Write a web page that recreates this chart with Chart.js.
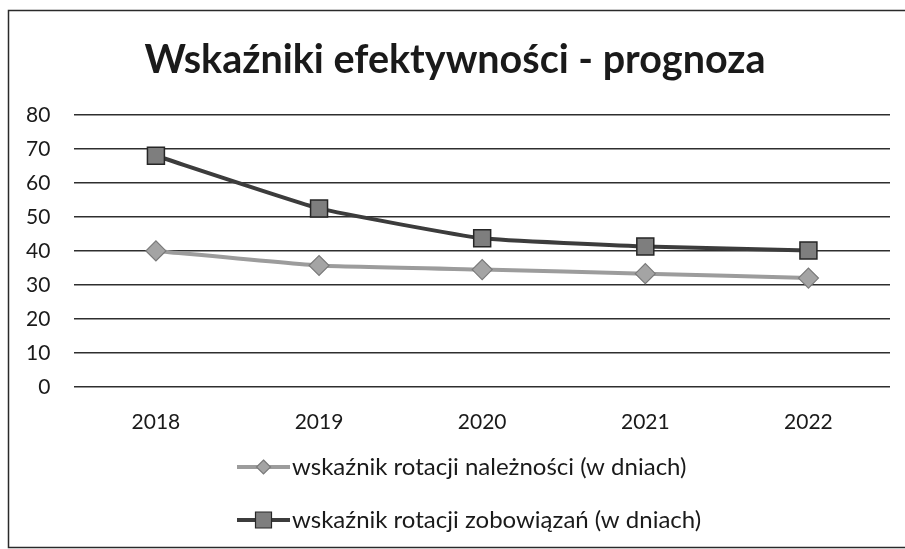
<!DOCTYPE html>
<html>
<head>
<meta charset="utf-8">
<script src="https://cdn.jsdelivr.net/npm/chart.js@4.4.0/dist/chart.umd.min.js"></script>
<style>
  html, body { margin: 0; padding: 0; background: #fff; }
  #wrap { width: 905px; height: 549px; position: relative; }
</style>
</head>
<body>
<div id="wrap"><canvas id="chart"></canvas></div>
<script>
// dane z wykresu
const years = ['2018', '2019', '2020', '2021', '2022'];
const naleznosci = [40, 35.7, 34.5, 33.3, 32];
const zobowiazania = [68, 52.5, 43.7, 41.3, 40.1];
const yTicks = [0, 10, 20, 30, 40, 50, 60, 70, 80];
const chartTitle = 'Wskaźniki efektywności - prognoza';

const FONT = "Lato, 'Open Sans', sans-serif";

// ramka, tytuł i legenda rysowane ręcznie (linia z markerem, jedna pod drugą)
const frameAndLegend = {
    id: 'frameAndLegend',
    afterDraw(chart) {
        const c = chart.ctx;
        c.save();
        c.strokeStyle = '#2a2a2a';
        c.lineWidth = 1.5;
        c.strokeRect(8.5, 10.5, 905, 537);

        c.fillStyle = '#1a1a1a';
        c.font = 'bold 39.5px ' + FONT;
        c.textAlign = 'center';
        c.textBaseline = 'middle';
        c.fillText(chartTitle, 455, 60);
        c.textAlign = 'left';

        const rows = [467, 520];
        chart.data.datasets.forEach((ds, i) => {
            const y = rows[i];
            const x0 = 237, x1 = 290;
            c.strokeStyle = ds.borderColor;
            c.lineWidth = ds.borderWidth;
            c.beginPath();
            c.moveTo(x0, y);
            c.lineTo(x1, y);
            c.stroke();
            const mx = (x0 + x1) / 2;
            c.fillStyle = ds.pointBackgroundColor;
            c.strokeStyle = ds.pointBorderColor;
            c.lineWidth = 1.2;
            c.beginPath();
            if (ds.pointStyle === 'rectRot') {
                const r = 7;
                c.moveTo(mx, y - r); c.lineTo(mx + r, y); c.lineTo(mx, y + r); c.lineTo(mx - r, y);
                c.closePath();
            } else {
                c.rect(mx - 8, y - 8, 16, 16);
            }
            c.fill();
            c.stroke();
            c.fillStyle = '#1a1a1a';
            c.font = '24px ' + FONT;
            c.textBaseline = 'middle';
            c.fillText(ds.label, x1 + 2, y);
        });
        c.restore();
    }
};

const ctx = document.getElementById('chart').getContext('2d');
new Chart(ctx, {
    type: 'line',
    data: {
        labels: years,
        datasets: [{
            label: 'wskaźnik rotacji należności (w dniach)',
            data: naleznosci,
            borderColor: '#9c9c9c',
            borderWidth: 4,
            pointStyle: 'rectRot',
            pointRadius: 10,
            pointBackgroundColor: '#a4a4a4',
            pointBorderColor: '#7a7a7a',
            pointBorderWidth: 1.2,
            tension: 0.12
        }, {
            label: 'wskaźnik rotacji zobowiązań (w dniach)',
            data: zobowiazania,
            borderColor: '#3c3c3c',
            borderWidth: 4,
            pointStyle: 'rect',
            pointRadius: 12,
            pointBackgroundColor: '#7e7e7e',
            pointBorderColor: '#262626',
            pointBorderWidth: 1.5,
            tension: 0.12
        }]
    },
    options: {
        responsive: true,
        maintainAspectRatio: false,
        animation: false,
        layout: { padding: { left: 2, right: 15, top: 115, bottom: 99 } },
        plugins: {
            legend: { display: false },
            tooltip: { enabled: false },
            title: { display: false }
        },
        scales: {
            x: {
                offset: true,
                grid: { display: false },
                border: { display: false },
                ticks: { color: '#1a1a1a', font: { family: FONT, size: 21 }, padding: 15 }
            },
            y: {
                min: 0,
                max: 80,
                afterBuildTicks: (axis) => { axis.ticks = yTicks.map(v => ({ value: v })); },
                grid: { color: '#2e2e2e', lineWidth: 1.5, drawTicks: false },
                border: { display: false },
                ticks: { color: '#1a1a1a', font: { family: FONT, size: 21 }, padding: 24 }
            }
        }
    },
    plugins: [frameAndLegend]
});
</script>
</body>
</html>
